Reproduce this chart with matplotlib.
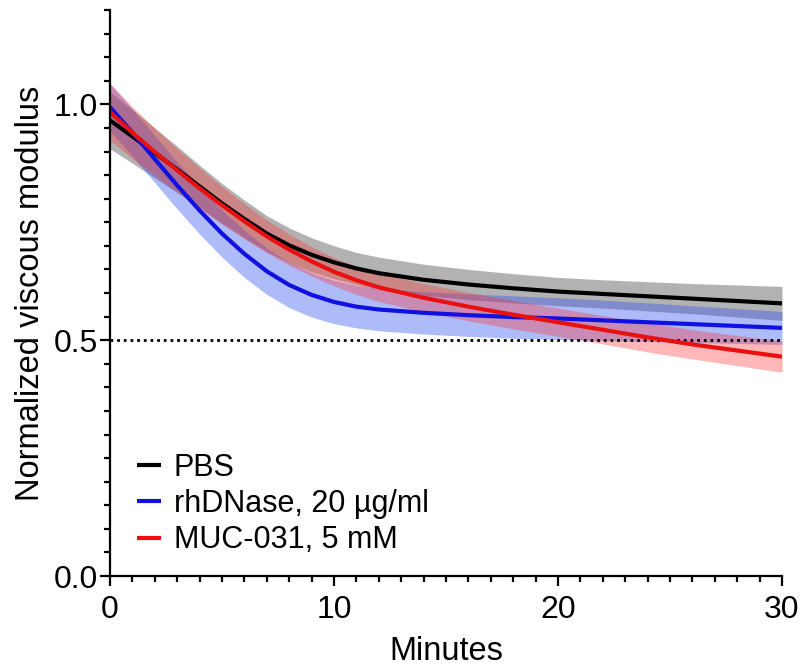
import matplotlib
matplotlib.use("Agg")
import matplotlib.pyplot as plt
from matplotlib.ticker import MultipleLocator

plt.rcParams['font.family'] = ['Liberation Sans', 'DejaVu Sans']

minutes = [0, 1, 2, 3, 4, 5, 6, 7, 8, 9, 10, 11, 12, 14, 16, 18, 20, 22, 24, 26, 28, 30]
pbs = [0.966, 0.932, 0.897, 0.862, 0.826, 0.790, 0.757, 0.726, 0.701, 0.681, 0.665,
       0.652, 0.642, 0.628, 0.618, 0.610, 0.603, 0.598, 0.593, 0.588, 0.583, 0.578]
rhdnase = [0.994, 0.940, 0.884, 0.828, 0.775, 0.726, 0.683, 0.646, 0.617, 0.596, 0.581,
           0.571, 0.565, 0.558, 0.553, 0.549, 0.546, 0.542, 0.538, 0.534, 0.530, 0.526]
muc031 = [0.984, 0.940, 0.899, 0.860, 0.822, 0.786, 0.752, 0.720, 0.692, 0.667, 0.645,
          0.627, 0.612, 0.590, 0.571, 0.554, 0.538, 0.522, 0.506, 0.491, 0.478, 0.465]
pbs_ci = [0.060, 0.057, 0.053, 0.049, 0.045, 0.042, 0.040, 0.038, 0.037, 0.036, 0.035,
          0.034, 0.034, 0.033, 0.032, 0.031, 0.030, 0.030, 0.031, 0.032, 0.034, 0.036]
rhdnase_ci = [0.050, 0.050, 0.050, 0.050, 0.050, 0.050, 0.050, 0.049, 0.048, 0.047, 0.046,
              0.045, 0.045, 0.045, 0.045, 0.045, 0.044, 0.043, 0.041, 0.039, 0.037, 0.035]
muc031_ci = [0.060, 0.055, 0.050, 0.046, 0.043, 0.040, 0.037, 0.035, 0.033, 0.031, 0.030,
             0.030, 0.030, 0.030, 0.030, 0.030, 0.030, 0.030, 0.031, 0.031, 0.032, 0.033]
labels = ["PBS", "rhDNase, 20 µg/ml", "MUC-031, 5 mM"]
reference_level = 0.5

fig = plt.figure(figsize=(8.05, 6.68), dpi=100)
ax = fig.add_axes([110 / 805, 1 - 576 / 668, (782 - 110) / 805, (576 - 10) / 668])

series = [
    (pbs, pbs_ci, 'black', '#808080', 0.6),
    (rhdnase, rhdnase_ci, '#1010e0', '#3355ee', 0.4),
    (muc031, muc031_ci, '#e81010', '#ff3333', 0.35),
]
for vals, ci, lc, fc, a in series:
    lo = [v - c for v, c in zip(vals, ci)]
    hi = [v + c for v, c in zip(vals, ci)]
    ax.fill_between(minutes, lo, hi, color=fc, alpha=a, lw=0)

ax.plot([minutes[0], minutes[-1]], [reference_level, reference_level],
        color='black', ls=(0, (1, 1.4)), lw=2)

for (vals, ci, lc, fc, a), lab in zip(series, labels):
    ax.plot(minutes, vals, color=lc, lw=3, label=lab, solid_capstyle='butt',
            solid_joinstyle='round')

ax.set_xlim(0, 30)
ax.set_ylim(0, 1.2)
ax.xaxis.set_major_locator(MultipleLocator(10))
ax.xaxis.set_minor_locator(MultipleLocator(1))
ax.yaxis.set_minor_locator(MultipleLocator(0.05))
ax.set_yticks([0, 0.5, 1.0])
ax.set_yticklabels(['0.0', '0.5', '1.0'])
for s in ['top', 'right']:
    ax.spines[s].set_visible(False)
for s in ['left', 'bottom']:
    ax.spines[s].set_linewidth(1.6)
ax.tick_params(which='major', length=7.5, width=1.6, labelsize=23)
ax.tick_params(axis='x', which='major', pad=6)
ax.tick_params(axis='y', which='major', pad=1)
ax.tick_params(which='minor', length=4, width=1.6)
ax.set_xlabel('Minutes', fontsize=23.5, labelpad=8)
ax.set_ylabel('Normalized viscous modulus', fontsize=23.5, labelpad=6)

leg = ax.legend(loc='lower left', bbox_to_anchor=(0.022, 0.015), frameon=False,
                fontsize=22, handlelength=0.8, handletextpad=0.4, labelspacing=0.2,
                borderaxespad=0.0)

fig.savefig('out.png', dpi=100)
